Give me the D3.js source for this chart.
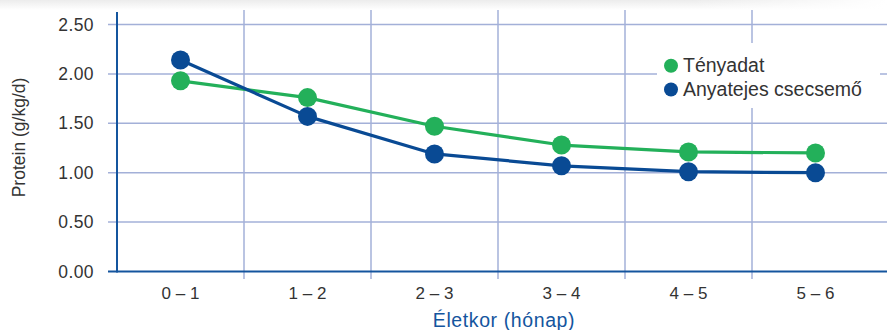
<!DOCTYPE html>
<html>
<head>
<meta charset="utf-8">
<script src="https://cdn.jsdelivr.net/npm/d3@7"></script>
<style>
  html, body { margin: 0; padding: 0; background: #fff; }
  svg { display: block; font-family: "Liberation Sans", Arial, sans-serif; }
</style>
</head>
<body>
<svg id="chart" width="887" height="330"></svg>
<script>
// Age bands (months) and daily protein intake (g/kg/d)
const categories = ["0 – 1", "1 – 2", "2 – 3", "3 – 4", "4 – 5", "5 – 6"];
const actualValues = [1.93, 1.76, 1.47, 1.28, 1.21, 1.20];      // Tényadat
const breastfedValues = [2.14, 1.57, 1.19, 1.07, 1.01, 1.00];   // Anyatejes csecsemő
const yTicks = [0, 0.5, 1.0, 1.5, 2.0, 2.5];
const seriesNames = ["Tényadat", "Anyatejes csecsemő"];
const yTitle = "Protein (g/kg/d)";
const xTitle = "Életkor (hónap)";

const GREEN = "#23b05a";
const BLUE = "#094a94";
const GRID = "#a3b0d8";
const AXIS = "#14559e";
const TEXT = "#333333";

const W = 887, H = 330;
const plotLeft = 117, plotRight = 879, plotTop = 24.5, plotBottom = 271.5;

const svg = d3.select("#chart");

// faint shadow band along the top edge
const defs = svg.append("defs");
const g1 = defs.append("linearGradient").attr("id", "topShade")
  .attr("x1", 0).attr("y1", 0).attr("x2", 0).attr("y2", 1);
g1.append("stop").attr("offset", "0%").attr("stop-color", "#ececec");
g1.append("stop").attr("offset", "100%").attr("stop-color", "#ffffff");
const g2 = defs.append("linearGradient").attr("id", "topFade")
  .attr("x1", 0).attr("y1", 0).attr("x2", 1).attr("y2", 0);
g2.append("stop").attr("offset", "0%").attr("stop-color", "#fff").attr("stop-opacity", 0);
g2.append("stop").attr("offset", "78%").attr("stop-color", "#fff").attr("stop-opacity", 0);
g2.append("stop").attr("offset", "100%").attr("stop-color", "#fff").attr("stop-opacity", 1);
svg.append("rect").attr("x", 0).attr("y", 0).attr("width", W).attr("height", 10)
  .attr("fill", "url(#topShade)");
svg.append("rect").attr("x", 0).attr("y", 0).attr("width", W).attr("height", 10)
  .attr("fill", "url(#topFade)");

const x = d3.scaleBand().domain(categories).range([plotLeft, plotRight]).padding(0);
const cx = c => x(c) + x.bandwidth() / 2;
const y = d3.scaleLinear().domain([0, 2.5]).range([plotBottom, plotTop]);

// horizontal gridlines
svg.append("g").selectAll("line").data(yTicks.filter(d => d > 0)).join("line")
  .attr("x1", 108).attr("x2", W)
  .attr("y1", d => y(d)).attr("y2", d => y(d))
  .attr("stroke", GRID).attr("stroke-width", 1.5);

// vertical gridlines at band boundaries
svg.append("g").selectAll("line").data(categories.slice(1)).join("line")
  .attr("x1", d => x(d)).attr("x2", d => x(d))
  .attr("y1", 10).attr("y2", 279)
  .attr("stroke", GRID).attr("stroke-width", 1.5);

// axis lines
svg.append("line").attr("x1", 108).attr("x2", W).attr("y1", plotBottom).attr("y2", plotBottom)
  .attr("stroke", AXIS).attr("stroke-width", 2);
svg.append("line").attr("x1", plotLeft).attr("x2", plotLeft).attr("y1", 12).attr("y2", plotBottom + 1)
  .attr("stroke", AXIS).attr("stroke-width", 2);

// y tick labels
const yAxis = svg.append("g").attr("transform", `translate(${plotLeft},0)`)
  .call(d3.axisLeft(y).tickValues(yTicks).tickFormat(d3.format(".2f")).tickSize(0).tickPadding(23));
yAxis.select(".domain").remove();
yAxis.selectAll("text").attr("fill", TEXT).attr("font-size", 17.5)
  .attr("font-family", "Liberation Sans, Arial, sans-serif").attr("letter-spacing", 0.4);

// x tick labels
const xAxis = svg.append("g").attr("transform", `translate(0,${plotBottom})`)
  .call(d3.axisBottom(x).tickSize(0).tickPadding(15.5));
xAxis.select(".domain").remove();
xAxis.selectAll("text").attr("fill", TEXT).attr("font-size", 17)
  .attr("font-family", "Liberation Sans, Arial, sans-serif");

// axis titles
svg.append("text").attr("transform", "translate(25,137.5) rotate(-90)")
  .attr("text-anchor", "middle").attr("fill", TEXT).attr("font-size", 17.5)
  .text(yTitle);
svg.append("text").attr("x", 504).attr("y", 327)
  .attr("text-anchor", "middle").attr("fill", AXIS).attr("font-size", 19.5)
  .attr("letter-spacing", 0.6)
  .text(xTitle);

// series lines and markers
const series = [
  { name: seriesNames[0], values: actualValues, color: GREEN },
  { name: seriesNames[1], values: breastfedValues, color: BLUE }
];
const line = d3.line().x((d, i) => cx(categories[i])).y(d => y(d));
series.forEach(s => {
  svg.append("path").datum(s.values).attr("d", line)
    .attr("fill", "none").attr("stroke", s.color).attr("stroke-width", 3.2)
    .attr("stroke-linejoin", "round");
});
series.forEach(s => {
  svg.append("g").selectAll("circle").data(s.values).join("circle")
    .attr("cx", (d, i) => cx(categories[i])).attr("cy", d => y(d))
    .attr("r", 9.5).attr("fill", s.color);
});

// legend
const lg = svg.append("g");
lg.append("rect").attr("x", 657).attr("y", 43).attr("width", 223).attr("height", 65).attr("fill", "#fff");
series.forEach((s, i) => {
  const yy = 65.7 + i * 23.8;
  lg.append("circle").attr("cx", 671).attr("cy", yy).attr("r", 7).attr("fill", s.color);
  lg.append("text").attr("x", 683).attr("y", yy + 6.5).attr("fill", TEXT)
    .attr("font-size", 19.5).text(s.name);
});
</script>
</body>
</html>
